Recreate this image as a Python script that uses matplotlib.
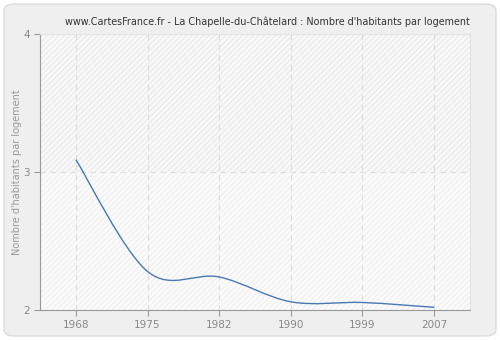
import numpy as np
import matplotlib
matplotlib.use("Agg")
import matplotlib.pyplot as plt
from matplotlib.path import Path
from matplotlib.patches import PathPatch, FancyBboxPatch, Rectangle

# census years and average household size
years = ["1968", "1975", "1982", "1990", "1999", "2007"]
habitants = [3.09, 2.28, 2.24, 2.06, 2.055, 2.02]
y_ticks = [2, 3, 4]

title = "www.CartesFrance.fr - La Chapelle-du-Châtelard : Nombre d'habitants par logement"
y_label = "Nombre d'habitants par logement"

fig = plt.figure(figsize=(5.0, 3.4), dpi=100)
fig.patch.set_facecolor("white")

# rounded grey panel behind everything
panel = FancyBboxPatch((0.008, 0.012), 0.984, 0.976, boxstyle="round,pad=0,rounding_size=0.02",
                       transform=fig.transFigure, facecolor="#efefef", edgecolor="#dcdcdc",
                       linewidth=1, zorder=-10)
fig.patches.append(panel)

ax = fig.add_axes([0.08, 0.088, 0.86, 0.812])
ax.set_facecolor("#fbfbfb")

x = np.arange(len(years))
ax.set_xlim(-0.5, len(years) - 0.5)
ax.set_ylim(2, 4)

# hatched bands
ax.add_patch(Rectangle((-0.5, 3), len(years), 1, facecolor="#f9f9f9", edgecolor="#ebebeb",
                       hatch="//////", linewidth=0, zorder=0))
ax.add_patch(Rectangle((-0.5, 2), len(years), 1, facecolor="#fbfbfb", edgecolor="#f1f1f1",
                       hatch="//////", linewidth=0, zorder=0))

# smooth line through the points as cubic bezier segments (catmull-rom tangents)
pts = np.column_stack([x, habitants])
verts = [tuple(pts[0])]
codes = [Path.MOVETO]
for i in range(len(pts) - 1):
    p0 = pts[i - 1] if i > 0 else pts[i]
    p1 = pts[i]
    p2 = pts[i + 1]
    p3 = pts[i + 2] if i + 2 < len(pts) else pts[i + 1]
    c1 = p1 + (p2 - p0) / 6.0
    c2 = p2 - (p3 - p1) / 6.0
    verts += [tuple(c1), tuple(c2), tuple(p2)]
    codes += [Path.CURVE4] * 3
curve = PathPatch(Path(verts, codes), facecolor="none", edgecolor="#4a78b4", linewidth=1.0, zorder=3)
ax.add_patch(curve)

ax.set_xticks(x)
ax.set_xticklabels(years)
ax.set_yticks(y_ticks)
ax.grid(True, color="#dddddd", linestyle=(0, (5, 4)), linewidth=0.8)
ax.set_axisbelow(True)

for side in ["top", "right"]:
    ax.spines[side].set_color("#e4e4e4")
for side in ["left", "bottom"]:
    ax.spines[side].set_color("#999999")
ax.tick_params(colors="#999999", labelcolor="#888888", labelsize=7.5, length=4, width=0.8)

ax.set_ylabel(y_label, color="#999999", fontsize=7, labelpad=1)
fig.text(0.535, 0.935, title, ha="center", va="center", fontsize=6.9, color="#333333")

fig.savefig("out.png", dpi=100, facecolor=fig.get_facecolor())
